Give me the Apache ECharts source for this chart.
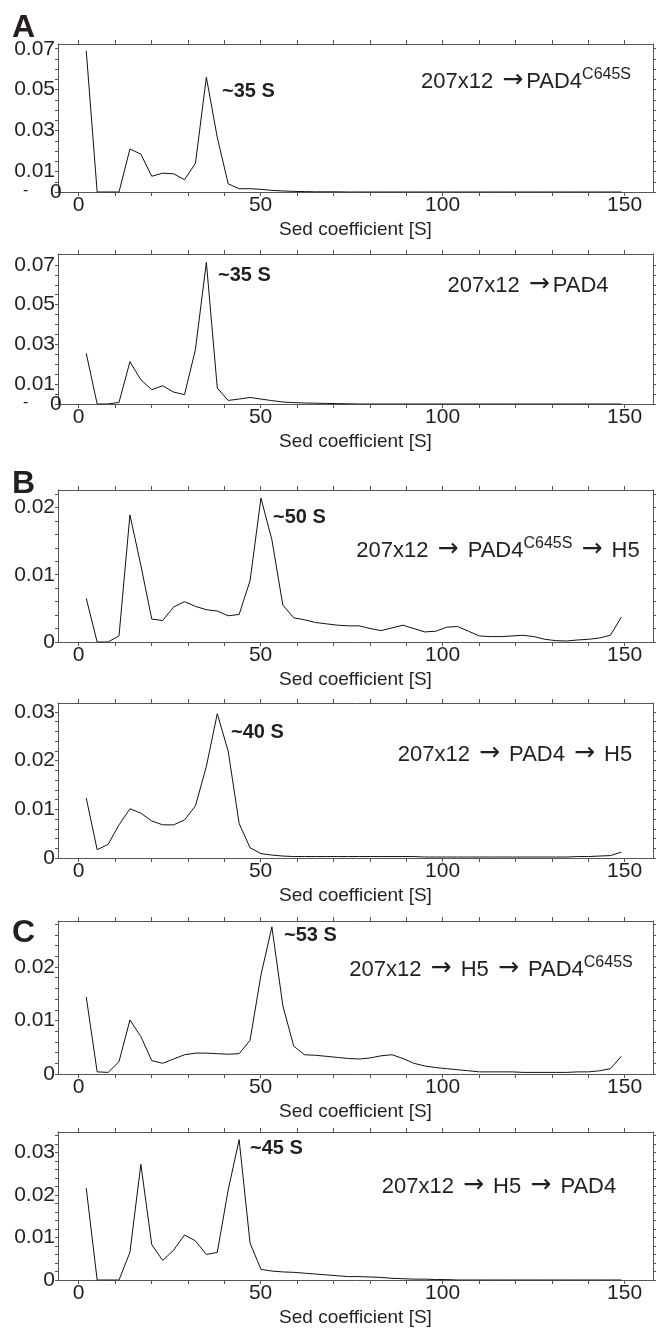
<!DOCTYPE html>
<html><head><meta charset="utf-8">
<script src="https://cdn.jsdelivr.net/npm/echarts@6/dist/echarts.min.js"></script>
<style>html,body{margin:0;padding:0;background:#fff}#c{width:662px;height:1328px}</style>
</head><body><div id="c"></div>
<script>
// Sedimentation coefficient sample positions [S]
const sed = [2.1,5.1,8.1,11.1,14.1,17.1,20.1,23.1,26.1,29.1,32.1,35.1,38.1,41.1,44.1,47.1,50.1,53.1,56.1,59.1,
  62.1,65.1,68.1,71.1,74.1,77.1,80.1,83.1,86.1,89.1,92.1,95.1,98.1,101.1,104.1,107.1,110.1,113.1,116.1,119.1,
  122.1,125.1,128.1,131.1,134.1,137.1,140.1,143.1,146.1,149.1];

// A: 207x12 -> PAD4C645S
const a1 = [0.069,0,0,0,0.021,0.0185,0.0077,0.0092,0.0089,0.006,0.014,0.0561,0.0266,0.004,0.0016,0.0016,0.0013,0.0008,0.0005,0.0003,
  0.0002,0.0001,0.0001,0.0001,0,0,0,0,0,0,0,0,0,0,0,0,0,0,0,0,0,0,0,0,0,0,0,0,0,0];
// A: 207x12 -> PAD4
const a2 = [0.0255,0,0,0.0008,0.0213,0.0122,0.0072,0.0092,0.006,0.0047,0.0275,0.0713,0.008,0.0018,0.0025,0.0033,0.0025,0.0017,0.001,0.0007,
  0.0005,0.0004,0.0003,0.0002,0.0001,0,0,0,0,0,0,0,0,0,0,0,0,0,0,0,0,0,0,0,0,0,0,0,0,0];
// B: 207x12 -> PAD4C645S -> H5
const b1 = [0.0065,0,0,0.0009,0.0189,0.0114,0.0034,0.0032,0.0052,0.006,0.0053,0.0048,0.0046,0.0039,0.0041,0.0091,0.0214,0.0152,0.0055,0.0036,
  0.0033,0.0029,0.0027,0.0025,0.0024,0.0024,0.002,0.0017,0.0021,0.0025,0.002,0.0015,0.0016,0.0022,0.0023,0.0016,0.0009,0.0008,0.0008,0.0009,
  0.001,0.0008,0.0004,0.0002,0.00015,0.0003,0.0004,0.0006,0.001,0.0037];
// B: 207x12 -> PAD4 -> H5
const b2 = [0.0123,0.0017,0.0028,0.0068,0.0101,0.0092,0.0076,0.0068,0.0068,0.0078,0.0107,0.0188,0.0296,0.0219,0.0071,0.0021,0.0009,0.0006,0.0004,0.0003,
  0.0003,0.0003,0.0003,0.0003,0.0003,0.0003,0.0003,0.0003,0.0003,0.0003,0.0003,0.0002,0.0002,0.0002,0.0002,0.0002,0.0002,0.0002,0.0002,0.0002,
  0.0002,0.0002,0.0002,0.0002,0.0002,0.0003,0.0003,0.0004,0.0005,0.0012];
// C: 207x12 -> H5 -> PAD4C645S
const c1 = [0.0144,0.0004,0.0003,0.0023,0.0101,0.007,0.0025,0.002,0.0028,0.0036,0.0039,0.0039,0.0038,0.0037,0.0038,0.0063,0.0185,0.0275,0.0128,0.0052,
  0.0036,0.0035,0.0033,0.0031,0.0029,0.0028,0.003,0.0034,0.0036,0.0029,0.002,0.0015,0.0012,0.001,0.0008,0.0006,0.0004,0.0004,0.0004,0.0004,
  0.0003,0.0003,0.0003,0.0003,0.0003,0.0004,0.0004,0.0006,0.001,0.0033];
// C: 207x12 -> H5 -> PAD4
const c2 = [0.0216,0,0,0,0.0065,0.0272,0.0083,0.0046,0.007,0.0106,0.0092,0.006,0.0065,0.0212,0.033,0.0087,0.0025,0.0021,0.0019,0.0018,
  0.0016,0.0014,0.0012,0.001,0.0008,0.0008,0.0007,0.0006,0.0004,0.0003,0.0002,0.0002,0.0001,0.0001,0,0,0,0,0,0,0,0,0,0,0,0,0,0,0,0];

// tick labels
const xLabels = [0, 50, 100, 150];
const xTicks = [0,10,20,30,40,50,60,70,80,90,100,110,120,130,140,150];
const yLabelsA = [0.01, 0.03, 0.05, 0.07];
const yZeroA = [0];
const yLabels2 = [0, 0.01, 0.02];
const yLabels3 = [0, 0.01, 0.02, 0.03];
const yMinorA = [0,0.005,0.01,0.015,0.02,0.025,0.03,0.035,0.04,0.045,0.05,0.055,0.06,0.065,0.07];
const yMinorBC = [0,0.002,0.004,0.006,0.008,0.01,0.012,0.014,0.016,0.018,0.02,0.022,0.024,0.026,0.028,0.03,0.032,0.034];

const peakLabels = ['~35 S','~35 S','~50 S','~40 S','~53 S','~45 S'];

const panels = [
  {data: a1, top: 44, h: 148, ymax: 0.0723, yl: yLabelsA, ym: yMinorA, zero: yZeroA},
  {data: a2, top: 254, h: 150, ymax: 0.0755, yl: yLabelsA, ym: yMinorA, zero: yZeroA},
  {data: b1, top: 490, h: 152, ymax: 0.0226, yl: yLabels2, ym: yMinorBC},
  {data: b2, top: 703, h: 155, ymax: 0.0318, yl: yLabels3, ym: yMinorBC},
  {data: c1, top: 921, h: 153, ymax: 0.0286, yl: yLabels2, ym: yMinorBC},
  {data: c2, top: 1132, h: 153, ymax: 0.0348, yl: yLabels3, ym: yMinorBC}
];

const FONT = "'Liberation Sans', Arial, sans-serif";
const AX = '#555';
const TXT = '#231f20';
const grid = [], xAxis = [], yAxis = [], series = [];
panels.forEach((p, i) => {
  grid.push({left: 58, width: 595, top: p.top, height: p.h});
  const xbase = {type: 'value', gridIndex: i, min: -5.66, max: 157.8,
    axisLine: {show: true, onZero: false, lineStyle: {color: AX, width: 1}}, splitLine: {show: false}};
  const xi = xAxis.length;
  xAxis.push(Object.assign({}, xbase, {position: 'bottom',
    name: 'Sed coefficient [S]', nameLocation: 'middle', nameGap: 28,
    nameTextStyle: {fontSize: 19, fontFamily: FONT, color: TXT},
    axisTick: {show: true, customValues: xTicks, length: 4, lineStyle: {color: AX}},
    axisLabel: {customValues: xLabels, fontSize: 21, fontFamily: FONT, color: TXT, margin: 3,
      hideOverlap: false, showMinLabel: true, showMaxLabel: true}}));
  xAxis.push(Object.assign({}, xbase, {position: 'top',
    axisTick: {show: true, customValues: xTicks, length: 4, lineStyle: {color: AX}},
    axisLabel: {show: false}}));
  const ybase = {type: 'value', gridIndex: i, min: 0, max: p.ymax,
    axisLine: {show: true, onZero: false, lineStyle: {color: AX, width: 1}}, splitLine: {show: false}};
  const minor = p.ym.filter(v => v <= p.ymax);
  const yi = yAxis.length;
  yAxis.push(Object.assign({}, ybase, {position: 'left',
    axisTick: {show: true, customValues: minor, length: 3, lineStyle: {color: AX}},
    axisLabel: {customValues: p.yl, fontSize: 21, fontFamily: FONT, color: TXT, margin: 3,
      hideOverlap: false, showMinLabel: true, showMaxLabel: true,
      formatter: v => v === 0 ? '0' : v.toFixed(2)}}));
  yAxis.push(Object.assign({}, ybase, {position: 'right',
    axisTick: {show: true, customValues: minor, length: 3, lineStyle: {color: AX}},
    axisLabel: {show: false}}));
  if (p.zero) {
    // separate label axis for the "0" of panel A (drawn overlapping the frame as in the original)
    yAxis.push(Object.assign({}, ybase, {position: 'left', axisLine: {show: false, onZero: false},
      axisTick: {show: false},
      axisLabel: {customValues: p.zero, fontSize: 21, fontFamily: FONT, color: TXT, margin: 3,
        showMinLabel: true, formatter: () => '{z|0}',
        rich: {z: {fontSize: 21, fontFamily: FONT, color: TXT, width: 5, align: 'left'}}}}));
  }
  series.push({type: 'line', xAxisIndex: xi, yAxisIndex: yi,
    data: sed.map((x, k) => [x, p.data[k]]), showSymbol: false, symbol: 'none',
    lineStyle: {color: '#111', width: 1}, z: 3});
});

const rich = {
  m: {fontSize: 22, fontFamily: FONT, color: TXT, lineHeight: 26, verticalAlign: 'bottom'},
  a: {fontSize: 25, fontFamily: "'DejaVu Sans', sans-serif", color: TXT, lineHeight: 26, verticalAlign: 'bottom', padding: [0, 3, 0, 3]},
  s: {fontSize: 16, fontFamily: FONT, color: TXT, lineHeight: 26, verticalAlign: 'top'}
};
function label(cx, cy, s) {
  return {type: 'text', x: cx, y: cy, z: 10,
    style: {text: s, rich, fill: TXT, font: '22px ' + FONT, align: 'center', verticalAlign: 'middle'}};
}
function bold(x, cy, s) {
  return {type: 'text', x: x, y: cy, z: 10,
    style: {text: s, fill: TXT, font: 'bold 20px ' + FONT, align: 'left', verticalAlign: 'middle'}};
}
function letter(x, y, s) {
  return {type: 'text', left: x, top: y, z: 10,
    style: {text: s, fill: TXT, font: 'bold 32px ' + FONT}};
}
const graphic = [
  letter(12, 12, 'A'), letter(12, 468, 'B'), letter(12, 917, 'C'),
  bold(222, 91, peakLabels[0]), bold(218, 275, peakLabels[1]), bold(273, 517, peakLabels[2]),
  bold(231, 732, peakLabels[3]), bold(284, 935, peakLabels[4]), bold(250, 1148, peakLabels[5]),
  label(526, 80, '{m|207x12 }{a|→}{m|PAD4}{s|C645S}'),
  label(528, 284, '{m|207x12 }{a|→}{m|PAD4}'),
  label(498, 549, '{m|207x12 }{a|→}{m| PAD4}{s|C645S}{m| }{a|→}{m| H5}'),
  label(515, 753, '{m|207x12 }{a|→}{m| PAD4 }{a|→}{m| H5}'),
  label(491, 968, '{m|207x12 }{a|→}{m| H5 }{a|→}{m| PAD4}{s|C645S}'),
  label(499, 1185, '{m|207x12 }{a|→}{m| H5 }{a|→}{m| PAD4}'),
  {type: 'text', left: 23, top: 183, style: {text: '-', fill: TXT, font: '16px ' + FONT}},
  {type: 'text', left: 23, top: 395, style: {text: '-', fill: TXT, font: '16px ' + FONT}}
];

const chart = echarts.init(document.getElementById('c'), null, {renderer: 'canvas'});
chart.setOption({animation: false, backgroundColor: '#fff', grid, xAxis, yAxis, series, graphic});
</script></body></html>
